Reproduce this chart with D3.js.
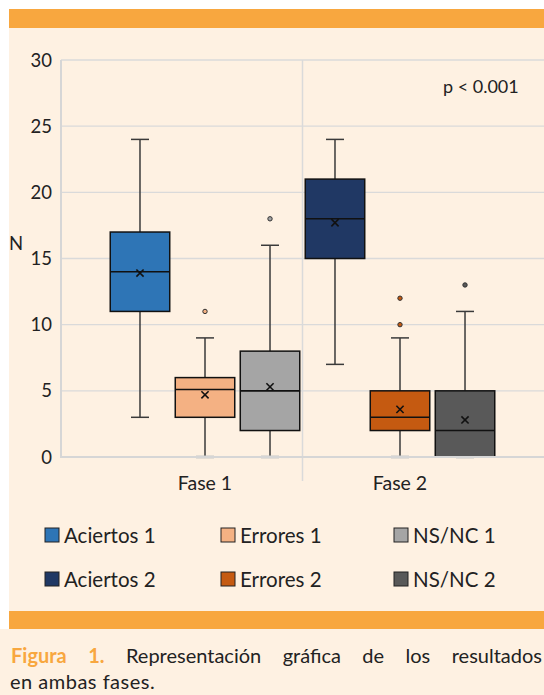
<!DOCTYPE html>
<html><head><meta charset="utf-8">
<script src="https://cdn.jsdelivr.net/npm/d3@7"></script>
<style>
html,body{margin:0;padding:0;background:#fff;}
svg{display:block;}
text{font-family:Lato,"Open Sans",sans-serif;fill:#222;}
</style></head>
<body>
<svg id="c" width="544" height="695"></svg>
<script>
// ---- data ----
const categories = ["Fase 1", "Fase 2"];
const seriesNames = ["Aciertos", "Errores", "NS/NC"];
const legendLabels = ["Aciertos 1", "Errores 1", "NS/NC 1", "Aciertos 2", "Errores 2", "NS/NC 2"];
const colorsFase1 = ["#2E75B6", "#F4B183", "#A5A5A5"];
const colorsFase2 = ["#203864", "#C55A11", "#595959"];
const whiskerMin = [[3, 0, 0], [7, 0, 0]];
const q1 = [[11, 3, 2], [15, 2, 0]];
const median = [[14, 5.1, 5], [18, 3, 2]];
const q3 = [[17, 6, 8], [21, 5, 5]];
const whiskerMax = [[24, 9, 16], [24, 9, 11]];
const means = [[13.9, 4.7, 5.3], [17.7, 3.6, 2.8]];
const outliers = [[[], [11], [18]], [[], [10, 12], [13]]];
const yTicks = [0, 5, 10, 15, 20, 25, 30];
const pLabel = "p < 0.001";
const yLabel = "N";
const captionWords = ["Figura", "1.", "Representación", "gráfica", "de", "los", "resultados"];
const captionLine2 = "en ambas fases.";

const svg = d3.select("#c");
const colors = [colorsFase1, colorsFase2];

// background panels
svg.append("rect").attr("x", 9).attr("y", 28).attr("width", 535).attr("height", 583).attr("fill", "#FEF1E2");
svg.append("rect").attr("x", 0).attr("y", 629).attr("width", 544).attr("height", 66).attr("fill", "#FEF1E2");
svg.append("rect").attr("x", 9).attr("y", 9).attr("width", 535).attr("height", 19).attr("fill", "#F8A73F");
svg.append("rect").attr("x", 9).attr("y", 611).attr("width", 535).attr("height", 18).attr("fill", "#F8A73F");

// scales
const y = d3.scaleLinear().domain([0, 30]).range([457, 60]);
const x = d3.scaleBand().domain(categories).range([107.5, 497.5]);
const xs = d3.scaleBand().domain(seriesNames).range([-94.75, 94.75]).paddingInner(0.085);
const axisLeftX = 61, plotRight = 544;

// gridlines
svg.append("g").selectAll("line").data(yTicks.filter(d => d > 0)).join("line")
  .attr("x1", axisLeftX).attr("x2", plotRight)
  .attr("y1", d => y(d)).attr("y2", d => y(d))
  .attr("stroke", "#DADADA").attr("stroke-width", 1.3);

// category divider
svg.append("line")
  .attr("x1", x("Fase 2")).attr("x2", x("Fase 2"))
  .attr("y1", y(30)).attr("y2", 481)
  .attr("stroke", "#DADADA").attr("stroke-width", 1.5);

// y axis line
svg.append("line").attr("x1", axisLeftX).attr("x2", axisLeftX).attr("y1", y(30)).attr("y2", y(0))
  .attr("stroke", "#D6D6D6").attr("stroke-width", 2);

// y tick labels
svg.append("g").selectAll("text").data(yTicks).join("text")
  .attr("x", 52).attr("y", d => y(d) + 6.5)
  .attr("text-anchor", "end").attr("font-size", 18.5)
  .text(d => d);

svg.append("text").attr("x", 9).attr("y", 250).attr("font-size", 18.5).text(yLabel);

// boxes
const boxes = [];
categories.forEach((c, ci) => {
  seriesNames.forEach((s, si) => {
    boxes.push({
      cx: x(c) + x.bandwidth() / 2 + xs(s) + xs.bandwidth() / 2,
      w: xs.bandwidth(),
      color: colors[ci][si],
      min: whiskerMin[ci][si], q1: q1[ci][si], med: median[ci][si], q3: q3[ci][si],
      max: whiskerMax[ci][si], mean: means[ci][si], out: outliers[ci][si]
    });
  });
});

const g = svg.append("g");
const capW = 18;
boxes.forEach(b => {
  g.append("line").attr("x1", b.cx).attr("x2", b.cx).attr("y1", y(b.q3)).attr("y2", y(b.max))
    .attr("stroke", "#3a3a3a").attr("stroke-width", 1.5);
  g.append("line").attr("x1", b.cx).attr("x2", b.cx).attr("y1", y(b.q1)).attr("y2", y(b.min))
    .attr("stroke", "#3a3a3a").attr("stroke-width", 1.5);
  g.append("line").attr("x1", b.cx - capW / 2).attr("x2", b.cx + capW / 2).attr("y1", y(b.max)).attr("y2", y(b.max))
    .attr("stroke", "#3a3a3a").attr("stroke-width", 1.5);
  g.append("line").attr("x1", b.cx - capW / 2).attr("x2", b.cx + capW / 2).attr("y1", y(b.min)).attr("y2", y(b.min))
    .attr("stroke", b.min === 0 ? "#C9C9C9" : "#3a3a3a").attr("stroke-width", b.min === 0 ? 3 : 1.5);
  g.append("rect").attr("x", b.cx - b.w / 2).attr("y", y(b.q3)).attr("width", b.w).attr("height", y(b.q1) - y(b.q3))
    .attr("fill", b.color).attr("stroke", "#111").attr("stroke-width", 1.5);
  g.append("line").attr("x1", b.cx - b.w / 2).attr("x2", b.cx + b.w / 2).attr("y1", y(b.med)).attr("y2", y(b.med))
    .attr("stroke", "#111").attr("stroke-width", 1.6);
  const m = 3.6, my = y(b.mean);
  g.append("path").attr("d", `M${b.cx - m},${my - m}L${b.cx + m},${my + m}M${b.cx - m},${my + m}L${b.cx + m},${my - m}`)
    .attr("stroke", "#111").attr("stroke-width", 1.6).attr("fill", "none");
  b.out.forEach(o => {
    g.append("circle").attr("cx", b.cx).attr("cy", y(o)).attr("r", 2.2)
      .attr("fill", b.color).attr("stroke", "#333").attr("stroke-width", 1);
  });
});

// x axis line
svg.append("line").attr("x1", axisLeftX - 1).attr("x2", plotRight).attr("y1", y(0)).attr("y2", y(0))
  .attr("stroke", "#D6D6D6").attr("stroke-width", 2);

// category labels
svg.append("g").selectAll("text").data(categories).join("text")
  .attr("x", d => x(d) + x.bandwidth() / 2).attr("y", 490)
  .attr("text-anchor", "middle").attr("font-size", 19.5).text(d => d);

// p value
svg.append("text").attr("x", 443).attr("y", 93).attr("font-size", 18).text(pLabel);

// legend
const legendColors = colorsFase1.concat(colorsFase2);
const colX = [45, 221, 394], rowY = [528, 572];
legendLabels.forEach((lab, i) => {
  const cx = colX[i % 3], ry = rowY[Math.floor(i / 3)];
  svg.append("rect").attr("x", cx).attr("y", ry).attr("width", 14).attr("height", 14)
    .attr("fill", legendColors[i]).attr("stroke", "#222").attr("stroke-width", 1);
  svg.append("text").attr("x", cx + 19).attr("y", ry + 14.5).attr("font-size", 20.5).text(lab);
});

// caption: justified first line between x=11 and x=542
const capY = 663, capFs = 20;
const wordNodes = captionWords.map((w, i) => svg.append("text")
  .attr("y", capY).attr("font-size", capFs)
  .attr("font-weight", i < 2 ? "bold" : null)
  .style("fill", i < 2 ? "#F8A73F" : "#222")
  .text(w));
const widths = wordNodes.map(n => n.node().getComputedTextLength());
const left = 11, right = 542;
const gap = (right - left - d3.sum(widths)) / (captionWords.length - 1);
let cursor = left;
wordNodes.forEach((n, i) => { n.attr("x", cursor); cursor += widths[i] + gap; });
svg.append("text").attr("x", 10).attr("y", 689).attr("font-size", capFs).attr("letter-spacing", 0.5).text(captionLine2);
</script>
</body></html>
